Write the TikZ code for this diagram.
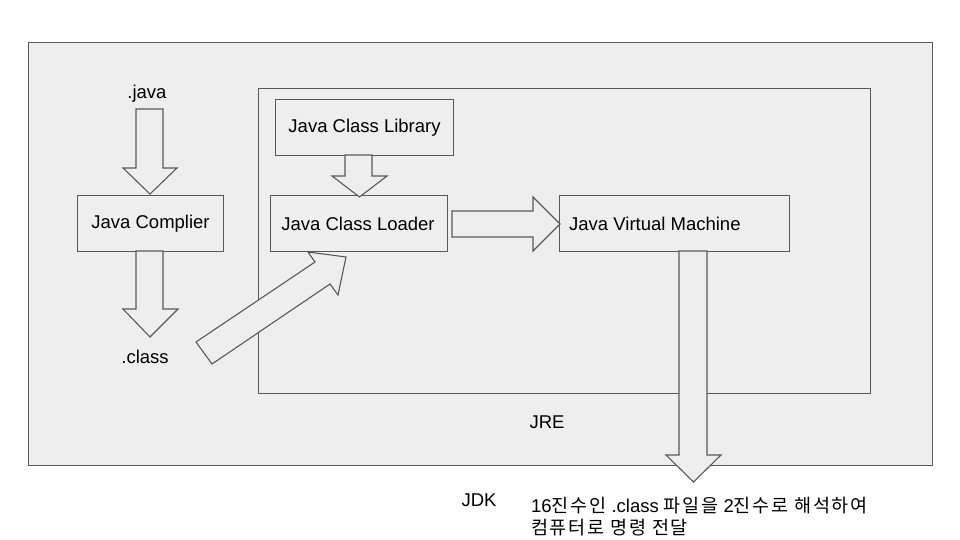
\documentclass[tikz,border=0pt]{standalone}
\usepackage{fontspec}
\setmainfont{Liberation Sans}
\newfontfamily\kr[LetterSpace=9.5]{Noto Sans CJK KR}
\definecolor{bgfill}{HTML}{EEEEEE}
\definecolor{edge}{HTML}{595959}
\begin{document}
\begin{tikzpicture}[x=1pt,y=-1pt,
  box/.style={draw=edge,fill=bgfill,line width=1.1pt,inner sep=0pt,anchor=north west},
  lbl/.style={font=\fontsize{18.5}{22}\selectfont,text=black,inner sep=0pt},
  blockarrow/.style={draw=edge,fill=bgfill,line width=1.1pt,line join=miter}]
\useasboundingbox (0,0) rectangle (960,540);
\fill[white] (0,0) rectangle (960,540);
% containers
\node[box,minimum width=904pt,minimum height=423pt] (jdk) at (28,42) {};
\node[box,minimum width=612pt,minimum height=305pt] (jre) at (258,88) {};
% boxes
\node[box,minimum width=146pt,minimum height=56pt] (comp) at (77,195) {};
\node[box,minimum width=178pt,minimum height=56pt] (lib) at (275,99) {};
\node[box,minimum width=177pt,minimum height=56pt] (load) at (270,195) {};
\node[box,minimum width=230pt,minimum height=56pt] (jvm) at (559,195) {};
% texts
\node[lbl] (tcomp) at (comp.center) {Java Complier};
\node[lbl] (tlib) at (lib.center) {Java Class Library};
\node[lbl] (tload) at ([xshift=-1pt]load.center) {Java Class Loader};
\node[lbl,anchor=west] (tjvm) at ([xshift=10pt]jvm.west) {Java Virtual Machine};
\node[lbl] (java) at (147,94) {.java};
\node[lbl] (class) at (145,357) {.class};
\node[lbl] (jretxt) at (547,422) {JRE};
\node[lbl] (jdktxt) at (479,500) {JDK};
\node[lbl,anchor=north west,align=left] (desc) at (531,497)
  {16{\kr 진수인} .class {\kr 파일을} 2{\kr 진수로 해석하여}\\{\kr 컴퓨터로 명령 전달}};
% block arrows
\draw[blockarrow] (136,109) -- (163,109) -- (163,168) -- (177,168) -- (150,194) -- (123,168) -- (136,168) -- cycle;
\draw[blockarrow] (345,155) -- (372,155) -- (372,176) -- (387,176) -- (359.5,197) -- (332,176) -- (345,176) -- cycle;
\draw[blockarrow] (136,251) -- (163,251) -- (163,309) -- (178,309) -- (150,337) -- (123,309) -- (136,309) -- cycle;
\draw[blockarrow] (452,211) -- (533,211) -- (533,197) -- (560,224) -- (533,251) -- (533,237) -- (452,237) -- cycle;
\draw[blockarrow] (679,251) -- (707,251) -- (707,455) -- (721,455) -- (693.5,482) -- (666,455) -- (679,455) -- cycle;
\draw[blockarrow] (212,364) -- (330,284) -- (338,295) -- (346,257) -- (308,252) -- (315,262) -- (196,342) -- cycle;
\end{tikzpicture}
\end{document}
